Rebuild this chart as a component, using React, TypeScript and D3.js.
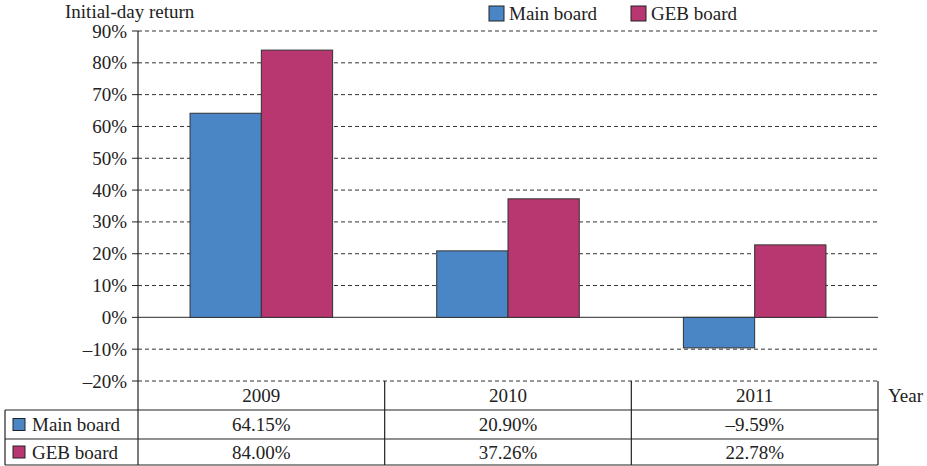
import React, { useRef, useEffect } from 'react';
import * as d3 from 'd3';

const years = ['2009', '2010', '2011'];
const seriesNames = ['Main board', 'GEB board'];
const mainBoard = [64.15, 20.9, -9.59];
const gebBoard = [84.0, 37.26, 22.78];
const tableMain = ['64.15%', '20.90%', '\u20139.59%'];
const tableGeb = ['84.00%', '37.26%', '22.78%'];
const yTicks = [-20, -10, 0, 10, 20, 30, 40, 50, 60, 70, 80, 90];
const colors = ['#4A86C6', '#B83770'];

const FONT = 'Liberation Serif';

const App: React.FC = () => {
  const svgRef = useRef<SVGSVGElement>(null);

  useEffect(() => {
    if (!svgRef.current) return;
    const svg = d3.select(svgRef.current);
    svg.selectAll('*').remove();

    const width = 927;
    const height = 466;
    const left = 138;
    const right = 878;
    const fs = 19;

    const x = d3.scaleBand<string>().domain(years).range([left, right]).padding(0);
    const y = d3.scaleLinear().domain([-20, 90]).range([381, 31]);
    const inner = d3.scaleBand<string>().domain(seriesNames)
      .range([0, x.bandwidth()]).paddingOuter(0.73).paddingInner(0);

    svg.attr('width', width).attr('height', height);

    const addText = (tx: number, ty: number, s: string, anchor = 'start') =>
      svg.append('text')
        .attr('x', tx).attr('y', ty)
        .attr('text-anchor', anchor)
        .attr('dominant-baseline', 'central')
        .attr('font-family', FONT)
        .attr('font-size', fs)
        .attr('fill', '#222')
        .text(s);

    // grid lines
    yTicks.forEach(t => {
      svg.append('line')
        .attr('x1', left).attr('x2', right)
        .attr('y1', y(t)).attr('y2', y(t))
        .attr('stroke', t === 0 ? '#555' : '#333')
        .attr('stroke-width', t === 0 ? 1.3 : 1)
        .attr('stroke-dasharray', t === 0 ? null : '4,3');
    });

    // y tick labels
    yTicks.forEach(t => {
      addText(127, y(t), `${t < 0 ? '\u2013' + Math.abs(t) : t}%`, 'end');
      svg.append('line')
        .attr('x1', left - 6).attr('x2', left)
        .attr('y1', y(t)).attr('y2', y(t))
        .attr('stroke', '#222');
    });

    // bars
    const series = [mainBoard, gebBoard];
    series.forEach((vals, si) => {
      vals.forEach((v, i) => {
        const bx = (x(years[i]) ?? 0) + (inner(seriesNames[si]) ?? 0);
        svg.append('rect')
          .attr('x', bx)
          .attr('y', y(Math.max(0, v)))
          .attr('width', inner.bandwidth())
          .attr('height', Math.abs(y(v) - y(0)))
          .attr('fill', colors[si])
          .attr('stroke', '#333')
          .attr('stroke-width', 1);
      });
    });

    // y axis
    svg.append('line')
      .attr('x1', left).attr('x2', left)
      .attr('y1', y(90)).attr('y2', 465)
      .attr('stroke', '#222').attr('stroke-width', 1.2);

    // table
    const rowTop = 381;
    const rowH = [29, 29, 26];
    const r1 = rowTop + rowH[0];
    const r2 = r1 + rowH[1];
    const r3 = r2 + rowH[2];
    const tbl = svg.append('g').attr('stroke', '#222').attr('stroke-width', 1.2);
    tbl.append('line').attr('x1', right).attr('x2', right).attr('y1', rowTop).attr('y2', r3);
    years.forEach(yr => {
      const xx = x(yr) ?? 0;
      if (xx > left) tbl.append('line').attr('x1', xx).attr('x2', xx).attr('y1', rowTop).attr('y2', r3);
    });
    tbl.append('line').attr('x1', 5).attr('x2', 5).attr('y1', r1).attr('y2', r3);
    tbl.append('line').attr('x1', 5).attr('x2', right).attr('y1', r1).attr('y2', r1);
    tbl.append('line').attr('x1', 5).attr('x2', right).attr('y1', r2).attr('y2', r2);
    tbl.append('line').attr('x1', 5).attr('x2', right).attr('y1', r3).attr('y2', r3);

    years.forEach((yr, i) => {
      const cx = (x(yr) ?? 0) + x.bandwidth() / 2;
      addText(cx, rowTop + rowH[0] / 2, yr, 'middle');
      addText(cx, r1 + rowH[1] / 2, tableMain[i], 'middle');
      addText(cx, r2 + rowH[2] / 2, tableGeb[i], 'middle');
    });

    // table row labels with swatches
    [r1 + rowH[1] / 2, r2 + rowH[2] / 2].forEach((cy, si) => {
      svg.append('rect')
        .attr('x', 13).attr('y', cy - 6)
        .attr('width', 12).attr('height', 12)
        .attr('fill', colors[si])
        .attr('stroke', '#222').attr('stroke-width', 1);
      addText(32, cy, seriesNames[si]);
    });

    addText(888, 395, 'Year');

    // title
    addText(65, 11, 'Initial-day return');

    // legend
    const legendX = [489, 631];
    seriesNames.forEach((name, si) => {
      svg.append('rect')
        .attr('x', legendX[si]).attr('y', 6)
        .attr('width', 15).attr('height', 15)
        .attr('fill', colors[si])
        .attr('stroke', '#222').attr('stroke-width', 1);
      addText(legendX[si] + 20, 13, name);
    });
  }, []);

  return <svg ref={svgRef} style={{ display: 'block', position: 'absolute', left: 0, top: 0 }} />;
};

export default App;
